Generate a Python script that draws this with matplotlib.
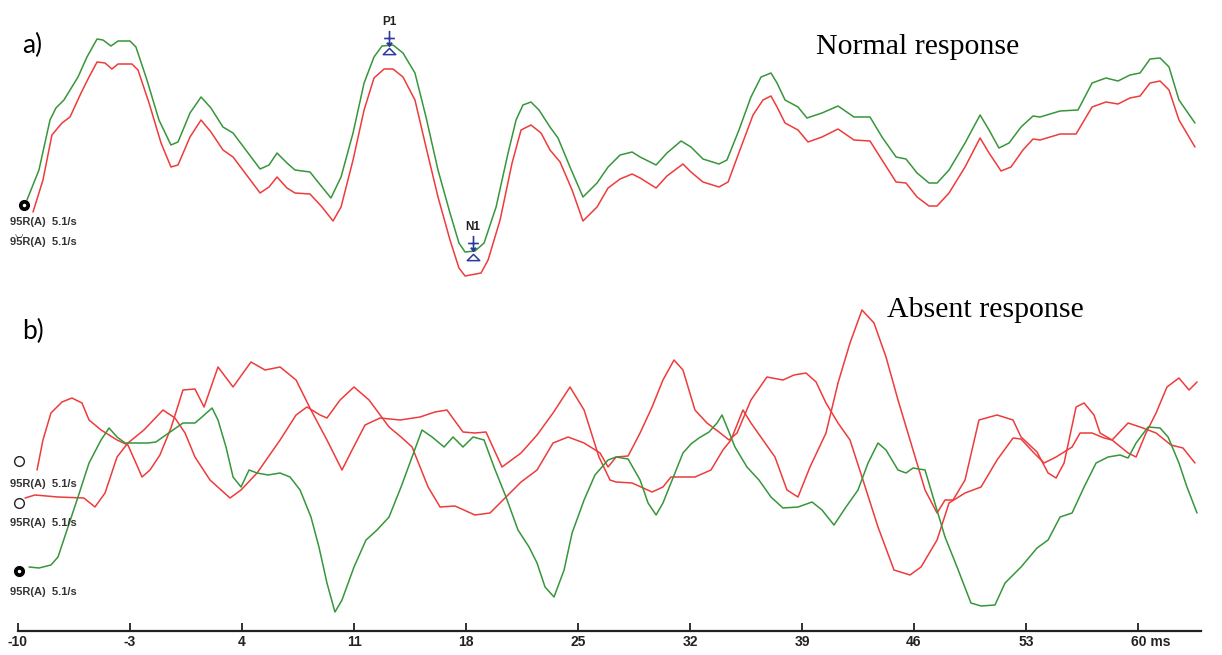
import numpy as np
import matplotlib
matplotlib.use("Agg")
import matplotlib.pyplot as plt
from matplotlib.path import Path
from matplotlib.transforms import offset_copy, ScaledTranslation

# ---------------- data (latency in ms, amplitude in arbitrary units) ----------------
# Panel a) normal response
a_green_t = [-9.44, -8.69, -8.00, -7.63, -7.13, -6.25, -5.69, -5.06, -4.69, -4.19, -3.75, -3.00, -2.63,
             -1.94, -1.19, -0.44, 0.00, 0.75, 1.44, 2.06, 2.81, 3.44, 4.38, 5.13, 5.69, 6.19, 6.81, 7.31,
             8.25, 9.00, 9.56, 10.19, 10.94, 11.63, 12.25, 12.75, 13.44, 14.06, 14.81, 15.50, 16.25, 17.00,
             17.56, 17.94, 18.56, 19.13, 19.88, 20.63, 21.13, 21.56, 22.06, 22.56, 23.25, 23.75, 24.50,
             25.31, 26.19, 26.88, 27.63, 28.38, 28.88, 29.88, 30.56, 31.44, 32.06, 32.81, 33.81, 34.31,
             35.06, 35.81, 36.44, 37.06, 37.44, 37.94, 38.75, 39.31, 40.25, 41.25, 42.25, 43.25, 44.00,
             44.88, 45.50, 46.19, 46.94, 47.44, 48.19, 49.19, 50.13, 50.69, 51.31, 51.94, 52.69, 53.44,
             53.88, 55.13, 56.25, 57.13, 58.00, 58.75, 59.50, 60.13, 60.75, 61.38, 61.94, 62.56, 63.56]
a_green_v = [4.31, 4.61, 5.11, 5.23, 5.31, 5.54, 5.74, 5.92, 5.91, 5.85, 5.90, 5.90, 5.84,
             5.51, 5.11, 4.86, 4.89, 5.18, 5.34, 5.23, 5.04, 4.98, 4.78, 4.62, 4.66, 4.78, 4.68, 4.61,
             4.59, 4.44, 4.33, 4.54, 4.98, 5.48, 5.74, 5.85, 5.86, 5.78, 5.58, 5.14, 4.61, 4.18,
             3.88, 3.79, 3.80, 3.88, 4.24, 4.78, 5.11, 5.26, 5.29, 5.21, 5.04, 4.93, 4.64,
             4.34, 4.48, 4.64, 4.76, 4.79, 4.74, 4.66, 4.78, 4.90, 4.84, 4.72, 4.67, 4.71,
             5.01, 5.34, 5.54, 5.58, 5.48, 5.31, 5.24, 5.13, 5.18, 5.25, 5.14, 5.14, 4.94,
             4.74, 4.72, 4.58, 4.48, 4.48, 4.61, 4.88, 5.16, 5.01, 4.83, 4.88, 5.04, 5.15,
             5.14, 5.20, 5.21, 5.48, 5.53, 5.50, 5.56, 5.58, 5.72, 5.73, 5.64, 5.31, 5.08]

a_red_t = [-9.06, -8.44, -7.88, -7.25, -6.75, -6.06, -5.56, -5.06, -4.56, -4.13, -3.75, -2.88, -2.50,
           -1.81, -1.06, -0.44, 0.00, 0.75, 1.44, 2.06, 2.81, 3.44, 4.38, 5.13, 5.69, 6.19, 6.81, 7.31,
           8.25, 9.00, 9.69, 10.19, 10.94, 11.63, 12.25, 12.88, 13.44, 14.06, 14.81, 15.50, 16.25, 17.00,
           17.56, 17.94, 18.94, 19.38, 20.13, 20.88, 21.44, 22.06, 22.69, 23.25, 23.88, 24.63,
           25.31, 26.19, 26.88, 27.63, 28.38, 28.88, 29.88, 30.56, 31.56, 32.06, 32.81, 33.81, 34.38,
           35.19, 35.94, 36.56, 37.06, 37.44, 37.94, 38.75, 39.38, 40.25, 41.25, 42.25, 43.25, 44.00,
           44.88, 45.50, 46.19, 46.94, 47.44, 48.19, 49.19, 50.13, 50.69, 51.44, 52.06, 52.81, 53.44,
           53.88, 55.13, 56.13, 57.13, 58.00, 58.75, 59.50, 60.13, 60.75, 61.38, 61.94, 62.56, 63.56]
a_red_v = [4.19, 4.51, 4.96, 5.08, 5.14, 5.38, 5.54, 5.69, 5.68, 5.62, 5.67, 5.67, 5.61,
           5.28, 4.88, 4.64, 4.66, 4.94, 5.11, 4.99, 4.81, 4.74, 4.54, 4.38, 4.44, 4.54, 4.43, 4.38,
           4.37, 4.24, 4.10, 4.24, 4.71, 5.21, 5.53, 5.62, 5.62, 5.54, 5.31, 4.84, 4.34, 3.91,
           3.63, 3.55, 3.58, 3.71, 4.11, 4.68, 5.01, 5.06, 4.98, 4.81, 4.69, 4.41,
           4.10, 4.24, 4.43, 4.52, 4.57, 4.53, 4.43, 4.55, 4.67, 4.59, 4.49, 4.44, 4.49,
           4.84, 5.16, 5.31, 5.35, 5.24, 5.08, 5.01, 4.89, 4.94, 5.02, 4.91, 4.90, 4.71,
           4.49, 4.48, 4.34, 4.25, 4.25, 4.38, 4.64, 4.93, 4.78, 4.60, 4.64, 4.81, 4.92,
           4.91, 4.97, 4.97, 5.24, 5.29, 5.27, 5.33, 5.35, 5.48, 5.50, 5.41, 5.11, 4.84]

# Panel b) absent response
b_green_t = [-9.31, -8.69, -7.94, -7.50, -7.00, -6.25, -5.56, -4.81, -4.31, -3.81, -3.31, -2.63, -1.88,
             -1.38, -0.94, -0.31, 0.31, 1.06, 1.50, 2.13, 2.50, 3.00, 3.44, 3.94, 4.44, 4.94, 5.63, 6.38,
             7.00, 7.63, 8.31, 8.81, 9.31, 9.81, 10.25, 11.00, 11.75, 12.44, 13.19, 13.94, 14.63, 15.25,
             15.88, 16.63, 17.19, 17.81, 18.44, 19.13, 19.75, 20.50, 21.25, 21.94, 22.44, 22.94, 23.50,
             24.13, 24.63, 25.38, 26.06, 26.88, 27.38, 28.13, 28.88, 29.38, 29.88, 30.31, 31.06, 31.56,
             32.06, 32.56, 33.19, 33.69, 34.00, 34.31, 34.81, 35.56, 36.31, 37.06, 37.81, 38.75, 39.63,
             40.25, 41.00, 41.75, 42.50, 43.13, 43.75, 44.25, 45.00, 45.50, 45.94, 46.69, 47.19, 47.94,
             48.69, 49.56, 50.19, 51.06, 51.69, 52.69, 53.69, 54.38, 55.13, 55.88, 56.63, 57.38, 58.13,
             58.88, 59.38, 59.88, 60.63, 61.38, 61.88, 62.56, 63.06, 63.69]
b_green_v = [0.64, 0.63, 0.66, 0.74, 0.98, 1.34, 1.68, 1.91, 2.03, 1.94, 1.88, 1.88, 1.88,
             1.89, 1.94, 2.01, 2.08, 2.08, 2.14, 2.23, 2.11, 1.84, 1.54, 1.44, 1.61, 1.58, 1.56, 1.58,
             1.54, 1.41, 1.14, 0.84, 0.48, 0.19, 0.31, 0.64, 0.91, 1.01, 1.14, 1.44, 1.74, 2.01,
             1.94, 1.84, 1.94, 1.84, 1.94, 1.91, 1.64, 1.34, 1.01, 0.84, 0.68, 0.44, 0.34,
             0.61, 0.98, 1.31, 1.56, 1.71, 1.74, 1.72, 1.51, 1.28, 1.16, 1.28, 1.58, 1.78,
             1.87, 1.93, 1.99, 2.08, 2.16, 2.04, 1.84, 1.64, 1.51, 1.34, 1.23, 1.24, 1.29,
             1.21, 1.06, 1.24, 1.41, 1.68, 1.88, 1.81, 1.61, 1.58, 1.63, 1.61, 1.34, 0.94,
             0.64, 0.28, 0.25, 0.26, 0.48, 0.64, 0.83, 0.91, 1.14, 1.18, 1.44, 1.68, 1.74,
             1.76, 1.73, 1.88, 2.04, 2.03, 1.94, 1.68, 1.44, 1.18]

b_red1_t = [-8.81, -8.44, -7.94, -7.25, -6.63, -6.00, -5.56, -4.81, -3.81, -3.13, -2.63, -2.25, -1.75,
            -1.13, -0.44, 0.31, 1.06, 1.63, 2.50, 3.44, 4.56, 5.44, 6.38, 7.38, 8.31, 9.31, 10.25, 10.88,
            11.69, 12.63, 13.88, 15.13, 16.06, 16.81, 17.81, 18.56, 19.25, 20.25, 21.44, 22.44, 23.44,
            24.50, 25.38, 26.31, 27.00, 27.38, 28.38, 29.63, 30.31, 30.81, 32.31, 33.31, 34.06, 34.56,
            35.31, 35.81, 36.56, 37.31, 38.06, 38.75, 39.50, 40.50, 41.25, 42.00, 42.75, 43.50, 44.25,
            45.00, 45.94, 46.69, 47.44, 47.94, 48.44, 49.19, 50.06, 51.19, 52.19, 52.69, 53.69, 54.38,
            54.88, 55.38, 56.13, 56.63, 57.25, 57.63, 58.38, 59.38, 59.88, 60.50, 61.13, 61.81, 62.56,
            63.19, 63.69]
b_red1_v = [1.61, 1.91, 2.18, 2.29, 2.33, 2.28, 2.11, 2.01, 1.91, 1.86, 1.68, 1.54, 1.61,
            1.76, 2.03, 2.41, 2.42, 2.24, 2.64, 2.44, 2.69, 2.61, 2.64, 2.51, 2.21, 1.91, 1.61, 1.81,
            2.06, 2.13, 2.11, 2.14, 2.19, 2.21, 1.99, 1.98, 1.99, 1.64, 1.78, 1.96, 2.18,
            2.44, 2.21, 1.74, 1.51, 1.49, 1.48, 1.39, 1.44, 1.54, 1.54, 1.61, 1.81, 1.91,
            2.21, 2.08, 1.91, 1.74, 1.41, 1.34, 1.64, 1.98, 2.48, 2.88, 3.21, 3.08, 2.74,
            2.31, 1.81, 1.41, 1.18, 1.31, 1.31, 1.51, 2.11, 2.16, 2.11, 1.94, 1.79, 1.58,
            1.53, 1.68, 2.24, 2.28, 2.16, 1.98, 1.91, 1.78, 1.74, 1.98, 2.18, 2.44, 2.53,
            2.41, 2.49]

b_red2_t = [-9.56, -8.94, -7.50, -5.88, -5.19, -4.56, -3.81, -3.13, -2.13, -0.94, -0.19, 0.44, 1.06,
            2.00, 3.25, 3.94, 4.94, 6.38, 7.38, 8.06, 8.88, 9.31, 10.13, 11.00, 11.94, 13.19, 13.94,
            14.63, 15.63, 16.38, 17.31, 18.56, 19.50, 20.50, 21.44, 22.44, 23.44, 24.38, 25.38, 26.38,
            26.88, 27.38, 28.13, 28.88, 29.63, 30.31, 31.00, 31.56, 32.31, 33.06, 33.81, 34.44, 34.94,
            35.81, 36.81, 37.81, 38.50, 39.25, 39.88, 40.50, 41.25, 42.00, 42.75, 43.75, 44.75, 45.75,
            46.44, 47.44, 48.19, 49.19, 50.19, 51.19, 52.19, 52.69, 53.44, 54.13, 54.88, 55.88, 56.38,
            57.13, 57.88, 58.38, 59.38, 60.13, 61.13, 62.06, 62.81, 63.56]
b_red2_v = [1.33, 1.36, 1.34, 1.33, 1.24, 1.38, 1.74, 1.88, 2.01, 2.21, 2.13, 1.98, 1.74,
            1.51, 1.33, 1.41, 1.58, 1.91, 2.16, 2.24, 2.16, 2.13, 2.31, 2.44, 2.31, 2.04, 1.94,
            1.84, 1.44, 1.24, 1.25, 1.16, 1.18, 1.34, 1.49, 1.61, 1.88, 1.94, 1.88, 1.78,
            1.64, 1.74, 1.75, 1.98, 2.24, 2.51, 2.71, 2.61, 2.21, 2.08, 1.99, 1.91, 1.98,
            2.31, 2.54, 2.51, 2.56, 2.58, 2.49, 2.28, 2.08, 1.91, 1.54, 1.04, 0.61, 0.56,
            0.64, 0.91, 1.28, 1.38, 1.44, 1.71, 1.93, 1.92, 1.79, 1.68, 1.74, 1.84, 1.98,
            1.98, 1.93, 1.91, 2.08, 2.04, 1.98, 1.86, 1.83, 1.68]

# peak labels (latency ms, amplitude)
peak_names = ["P1", "N1"]
peak_lat = [13.19, 18.44]
peak_amp = [5.86, 3.80]

# trace labels (amplitude position of the label rows)
label_text = "95R(A)  5.1/s"
a_label_amp = [4.09, 3.89]
b_label_amp = [1.47, 1.08, 0.39]
b_marker_amp = [1.70, 1.28, 0.60]

tick_vals = [-10, -3, 4, 11, 18, 25, 32, 39, 46, 53, 60]
tick_labels = ["-10", "-3", "4", "11", "18", "25", "32", "39", "46", "53", "60 ms"]

GREEN = "#37963a"
RED = "#ee3b3b"
BLUE = "#2b3a9e"
NARROW = ["Liberation Sans Narrow", "Liberation Sans"]

# ---------------- figure ----------------
fig = plt.figure(figsize=(12.22, 6.55), dpi=100)
ax = fig.add_axes([0, 0, 1, 1])
ax.set_xlim(-11.125, 65.25)
ax.set_ylim(-0.24, 6.31)
for s in ["top", "right", "left"]:
    ax.spines[s].set_visible(False)
ax.spines["bottom"].set_position(("data", 0))
ax.spines["bottom"].set_bounds(-10, 63.94)
ax.spines["bottom"].set_linewidth(1.6)
ax.spines["bottom"].set_color("#222222")
ax.set_yticks([])
ax.set_xticks(tick_vals)
ax.set_xticklabels(tick_labels, fontsize=10, fontweight="bold", color="#222222", family=NARROW)
ax.tick_params(axis="x", direction="in", length=6, width=1.3, pad=3, color="#222222")
last = ax.get_xticklabels()[-1]
last.set_horizontalalignment("left")
last.set_transform(last.get_transform() + ScaledTranslation(-7 / 100, 0, fig.dpi_scale_trans))

lw = 1.1
line_kw = dict(lw=lw, solid_joinstyle="round", solid_capstyle="round")
ax.plot(a_green_t, a_green_v, color=GREEN, **line_kw)
ax.plot(a_red_t, a_red_v, color=RED, **line_kw)
ax.plot(b_red1_t, b_red1_v, color=RED, **line_kw)
ax.plot(b_red2_t, b_red2_v, color=RED, **line_kw)
ax.plot(b_green_t, b_green_v, color=GREEN, **line_kw)

# peak markers
arrow_path = Path([(0, 1.0), (0, -1.0), (-0.7, 0.0), (0.7, 0.0), (-0.35, -0.55), (0, -1.0), (0.35, -0.55)],
                  [Path.MOVETO, Path.LINETO, Path.MOVETO, Path.LINETO, Path.MOVETO, Path.LINETO, Path.LINETO])
tri_path = Path([(-1.0, -0.5), (1.0, -0.5), (0, 0.5), (-1.0, -0.5)],
                [Path.MOVETO, Path.LINETO, Path.LINETO, Path.CLOSEPOLY])
for name, t, v, up in zip(peak_names, peak_lat, peak_amp, [7, 8]):
    tr_arrow = offset_copy(ax.transData, fig=fig, x=0, y=up, units="dots")
    tr_tri = offset_copy(ax.transData, fig=fig, x=0, y=-6, units="dots")
    tr_txt = offset_copy(ax.transData, fig=fig, x=0, y=up + 10, units="dots")
    ax.plot([t], [v], marker=arrow_path, ms=11, mew=1.2, color=BLUE, transform=tr_arrow, ls="none")
    ax.plot([t], [v], marker=tri_path, ms=9, mew=1.1, mfc="none", mec=BLUE, transform=tr_tri, ls="none")
    ax.text(t, v, name, transform=tr_txt, ha="center", va="bottom", fontsize=8.5,
            fontweight="bold", color="#222222", family=NARROW)

# trace labels
lab_kw = dict(fontsize=8, fontweight="bold", color="#333333", ha="left", va="center", family=NARROW)
for v in a_label_amp:
    ax.text(-10.5, v, label_text, **lab_kw)
ax.plot([-9.63], [4.26], marker="o", ms=7, color="black", ls="none")
ax.plot([-9.63], [4.26], marker="o", ms=1.5, color="white", ls="none")
ax.text(-9.95, 3.97, "\u25e1", fontsize=7, ha="center", va="center", color="#333333",
        family=["DejaVu Sans"])

for v in b_label_amp:
    ax.text(-10.5, v, label_text, **lab_kw)
for i, v in enumerate(b_marker_amp):
    if i < 2:
        ax.plot([-9.95], [v], marker="o", ms=7, mfc="white", mec="#222222", mew=1.0, ls="none")
    else:
        ax.plot([-9.95], [v], marker="o", ms=7, color="black", ls="none")
        ax.plot([-9.95], [v], marker="o", ms=1.5, color="white", ls="none")

# panel letters & titles
ax.text(-9.75, 5.86, "a)", fontsize=19, family=["Lato", "DejaVu Sans"], ha="left", va="center")
ax.text(-9.75, 3.00, "b)", fontsize=19, family=["Lato", "DejaVu Sans"], ha="left", va="center")
ax.text(46.25, 5.84, "Normal response", fontsize=21.5, family=["Liberation Serif"], ha="center", va="center")
ax.text(50.44, 3.21, "Absent response", fontsize=21.5, family=["Liberation Serif"], ha="center", va="center")

fig.savefig("out.png", dpi=100, facecolor="white")
